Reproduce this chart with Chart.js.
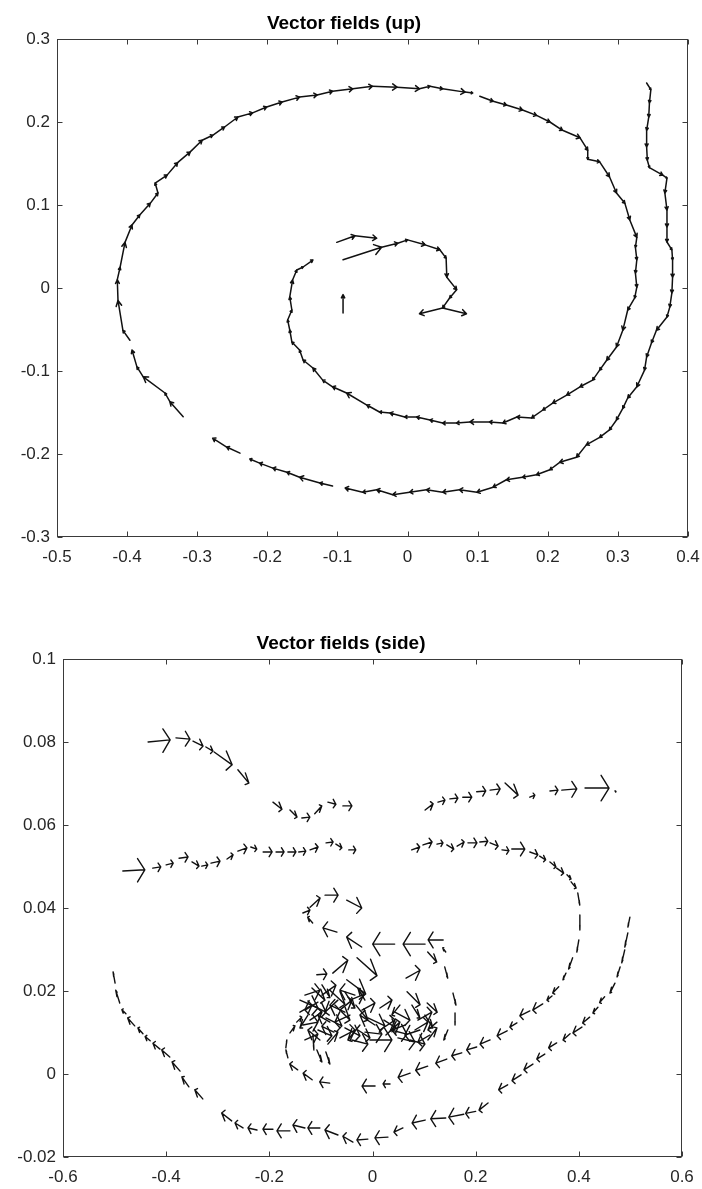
<!DOCTYPE html>
<html lang="en">
<head>
<meta charset="UTF-8">
<title>Vector fields</title>
<script src="https://cdn.jsdelivr.net/npm/chart.js"></script>
<style>
  html, body { margin: 0; padding: 0; background: #fff; }
  canvas { display: block; }
</style>
</head>
<body>
<canvas id="upChart" width="702" height="600"></canvas>
<canvas id="sideChart" width="702" height="589"></canvas>
<script>
// ---------- top view: sampled trajectory runs [x, y]; each sample points to the next ----------
const upRun1 = [[0.341,0.247],[0.347,0.239],[0.345,0.223],[0.344,0.206],[0.341,0.190],[0.341,0.170],[0.342,0.154],[0.345,0.145],[0.364,0.136],[0.370,0.1325],[0.367,0.1145],[0.370,0.094],[0.370,0.0735],[0.370,0.0554],[0.377,0.046],[0.378,0.034],[0.378,0.013],[0.377,-0.006],[0.374,-0.023],[0.370,-0.035],[0.355,-0.051],[0.348,-0.066],[0.341,-0.083],[0.338,-0.099],[0.327,-0.119],[0.314,-0.1325],[0.307,-0.145],[0.298,-0.159],[0.288,-0.171],[0.274,-0.180],[0.255,-0.189],[0.241,-0.204],[0.217,-0.210],[0.203,-0.219],[0.184,-0.225],[0.164,-0.228],[0.141,-0.231],[0.122,-0.240],[0.099,-0.246],[0.074,-0.243],[0.050,-0.246],[0.027,-0.243],[0.003,-0.246],[-0.021,-0.249],[-0.044,-0.243],[-0.064,-0.246],[-0.089,-0.241]];
const upRun2 = [[-0.107,-0.2386],[-0.125,-0.235],[-0.154,-0.228],[-0.172,-0.222],[-0.192,-0.217],[-0.211,-0.211],[-0.225,-0.206]];
const upRun3 = [[-0.239,-0.199],[-0.258,-0.1916],[-0.278,-0.181]];
const upRun4 = [[-0.320,-0.155],[-0.339,-0.137],[-0.346,-0.1265],[-0.377,-0.107],[-0.386,-0.095],[-0.393,-0.0747]];
const upRun5 = [[-0.396,-0.063],[-0.406,-0.051],[-0.413,-0.015],[-0.414,0.010],[-0.410,0.025],[-0.403,0.055],[-0.393,0.076],[-0.382,0.088],[-0.367,0.102],[-0.356,0.1145],[-0.360,0.1265],[-0.343,0.136],[-0.328,0.151],[-0.310,0.164],[-0.293,0.178],[-0.278,0.184],[-0.261,0.194],[-0.242,0.206],[-0.221,0.211],[-0.201,0.218],[-0.179,0.224],[-0.154,0.230],[-0.129,0.2325],[-0.107,0.237],[-0.078,0.240],[-0.050,0.243],[-0.015,0.242],[0.017,0.240],[0.032,0.243],[0.050,0.240],[0.082,0.236],[0.093,0.235]];
const upRun6 = [[0.103,0.231],[0.122,0.225],[0.141,0.2205],[0.164,0.2145],[0.184,0.208],[0.203,0.200],[0.221,0.190],[0.246,0.181],[0.257,0.166],[0.257,0.155],[0.274,0.152],[0.288,0.134],[0.298,0.1145],[0.310,0.102],[0.317,0.082],[0.327,0.061],[0.325,0.049],[0.327,0.034],[0.325,0.018],[0.327,0.001],[0.324,-0.012],[0.314,-0.0265],[0.307,-0.051],[0.298,-0.071],[0.284,-0.087],[0.274,-0.099],[0.264,-0.111],[0.246,-0.119],[0.227,-0.129],[0.207,-0.1386],[0.193,-0.147],[0.177,-0.1566],[0.156,-0.1554],[0.136,-0.1627],[0.117,-0.1614],[0.089,-0.1614],[0.070,-0.1627],[0.050,-0.1627],[0.032,-0.159],[0.013,-0.1554],[-0.004,-0.1554],[-0.025,-0.1506],[-0.040,-0.1494],[-0.058,-0.141],[-0.087,-0.1265],[-0.107,-0.119],[-0.121,-0.111],[-0.135,-0.0964],[-0.149,-0.0867],[-0.154,-0.0747],[-0.165,-0.065],[-0.168,-0.0506],[-0.171,-0.0386],[-0.165,-0.0265],[-0.168,-0.0108],[-0.164,0.0096],[-0.158,0.0217],[-0.149,0.0253],[-0.135,0.0337]];
const upCoreA = [[-0.101,0.055],[-0.075,0.063],[-0.044,0.060]];
const upCoreB = [[-0.092,0.034],[-0.037,0.049]];
const upCoreC = [[-0.037,0.049],[-0.014,0.054],[0.000,0.058],[0.025,0.052],[0.046,0.046],[0.055,0.036],[0.056,0.013],[0.070,-0.002],[0.060,-0.012],[0.050,-0.024]];
const upCoreD = [[0.050,-0.024],[0.017,-0.031]];
const upCoreE = [[0.050,-0.024],[0.084,-0.031]];
const upCoreF = [[-0.092,-0.030],[-0.092,-0.008]];

const upTicksX = [-0.5, -0.4, -0.3, -0.2, -0.1, 0, 0.1, 0.2, 0.3, 0.4];
const upTicksY = [-0.3, -0.2, -0.1, 0, 0.1, 0.2, 0.3];

// ---------- side view: quiver rows [x, y, u, v] ----------
const sideArcA = [
  [-0.435, 0.0800, 0.0427, 0.0005], [-0.381, 0.0810, 0.0271, -0.0003], [-0.348, 0.0802, 0.0194, -0.0012],
  [-0.323, 0.0788, 0.0136, -0.0010], [-0.307, 0.0776, 0.0349, -0.0031], [-0.261, 0.0733, 0.0213, -0.0032]
];
const sideArcB = [
  [-0.193, 0.0655, 0.0174, -0.0017], [-0.160, 0.0636, 0.0136, -0.0017], [-0.137, 0.0617, 0.0155, 0.0002],
  [-0.112, 0.0627, 0.0136, 0.0019], [-0.0865, 0.0655, 0.0155, -0.0005], [-0.0574, 0.0646, 0.0174, 0]
];
const sideRowC = [
  [-0.484, 0.0489, 0.0426, 0.0003], [-0.426, 0.0496, 0.0155, 0.0003], [-0.400, 0.0504, 0.0136, 0.0004],
  [-0.375, 0.0520, 0.0174, 0.0003], [-0.350, 0.0511, 0.0136, -0.0010], [-0.331, 0.0501, 0.0116, 0.0003],
  [-0.313, 0.0508, 0.0174, 0.0005], [-0.282, 0.0518, 0.0116, 0.0010], [-0.261, 0.0537, 0.0175, 0.0008],
  [-0.236, 0.0547, 0.0116, -0.0005], [-0.212, 0.0535, 0.0174, 0], [-0.187, 0.0535, 0.0155, 0],
  [-0.164, 0.0535, 0.0155, 0], [-0.143, 0.0535, 0.0136, 0.0002], [-0.121, 0.0540, 0.0155, 0.0007],
  [-0.090, 0.0557, 0.0136, 0.0002], [-0.071, 0.0554, 0.0116, -0.0009], [-0.046, 0.0540, 0.0135, 0]
];
const sideRowD = [
  [0.102, 0.0636, 0.0155, 0.0015], [0.127, 0.0655, 0.0135, 0.0005], [0.150, 0.0663, 0.0155, 0.0002],
  [0.175, 0.0667, 0.0174, 0], [0.202, 0.0680, 0.0175, 0.0002], [0.228, 0.0684, 0.0194, 0.0003],
  [0.257, 0.0701, 0.0252, -0.0029], [0.305, 0.0667, 0.0097, 0.0005], [0.344, 0.0682, 0.0155, 0.0002],
  [0.367, 0.0684, 0.0290, 0.0003], [0.412, 0.0689, 0.0465, 0], [0.470, 0.0682, 0.0020, -0.0002]
];
const sideRowE = [
  [0.076, 0.0540, 0.0155, 0.0007], [0.098, 0.0552, 0.0175, 0.0007], [0.125, 0.0554, 0.0116, 0.0003],
  [0.144, 0.0552, 0.0135, -0.0010], [0.164, 0.0549, 0.0136, 0.0010], [0.185, 0.0557, 0.0174, 0],
  [0.208, 0.0559, 0.0155, 0.0002], [0.228, 0.0557, 0.0155, -0.0008], [0.251, 0.0540, 0.0135, -0.0002],
  [0.270, 0.0542, 0.0252, 0], [0.305, 0.0535, 0.0155, -0.0007], [0.324, 0.0525, 0.0116, -0.0009],
  [0.344, 0.0511, 0.0116, -0.0012], [0.357, 0.0496, 0.0135, -0.0012], [0.377, 0.0480, 0.0078, -0.0010],
  [0.385, 0.0463, 0.0097, -0.0015], [0.398, 0.0436, 0.0038, -0.0029], [0.402, 0.0383, 0, -0.0036],
  [0.400, 0.0323, -0.0039, -0.0029], [0.388, 0.0280, -0.0078, -0.0027], [0.375, 0.0243, -0.0058, -0.0016],
  [0.361, 0.0210, -0.0116, -0.0015], [0.348, 0.0188, -0.0097, -0.0010], [0.330, 0.0169, -0.0193, -0.0015],
  [0.305, 0.0152, -0.0193, -0.0012], [0.280, 0.0123, -0.0136, -0.0010], [0.261, 0.0104, -0.0194, -0.0012],
  [0.228, 0.0082, -0.0194, -0.0010], [0.202, 0.0065, -0.0194, -0.0007], [0.173, 0.0051, -0.0194, -0.0007],
  [0.144, 0.0036, -0.0213, -0.0010], [0.107, 0.0019, -0.0233, -0.0010], [0.073, 0.0002, -0.0233, -0.0010],
  [0.034, -0.0024, -0.0135, 0], [0.005, -0.0029, -0.0252, 0], [-0.083, -0.0022, -0.0194, 0.0003],
  [-0.117, -0.0014, -0.0175, 0.0016], [-0.145, 0.0010, -0.0155, 0.0014], [-0.164, 0.0039, -0.0039, 0.0019],
  [-0.168, 0.0063, 0.0019, 0.0019], [-0.160, 0.0099, 0.0097, 0.0017], [-0.147, 0.0125, 0.0097, 0.0012]
];
const sideOuter = [
  [0.499, 0.0378, -0.0039, -0.0024], [0.495, 0.0340, -0.0059, -0.0034], [0.489, 0.0299, -0.0058, -0.0031],
  [0.480, 0.0258, -0.0059, -0.0024], [0.470, 0.0219, -0.0097, -0.0024], [0.450, 0.0186, -0.0097, -0.0014],
  [0.437, 0.0161, -0.0097, -0.0014], [0.421, 0.0137, -0.0136, -0.0014], [0.406, 0.0113, -0.0174, -0.0014],
  [0.383, 0.0097, -0.0136, -0.0015], [0.357, 0.0075, -0.0155, -0.0012], [0.334, 0.0048, -0.0155, -0.0012],
  [0.311, 0.0024, -0.0174, -0.0014], [0.288, -0.0002, -0.0174, -0.0014], [0.262, -0.0026, -0.0174, -0.0012],
  [0.224, -0.0070, -0.0174, -0.0017], [0.200, -0.0090, -0.0194, -0.0005], [0.177, -0.0097, -0.0291, -0.0007],
  [0.142, -0.0106, -0.0291, -0.0002], [0.102, -0.0111, -0.0252, -0.0007], [0.059, -0.0130, -0.0174, -0.0010],
  [0.030, -0.0152, -0.0252, -0.0002], [-0.009, -0.0157, -0.0213, -0.0002], [-0.038, -0.0164, -0.0194, 0.0014],
  [-0.067, -0.0147, -0.0252, 0.0012], [-0.102, -0.0130, -0.0233, 0], [-0.131, -0.0130, -0.0233, 0.0007],
  [-0.160, -0.0137, -0.0252, 0], [-0.193, -0.0133, -0.0194, 0], [-0.224, -0.0135, -0.0174, 0.0005],
  [-0.251, -0.0130, -0.0155, 0.0012], [-0.273, -0.0113, -0.0194, 0.0019], [-0.329, -0.0060, -0.0155, 0.0022],
  [-0.356, -0.0031, -0.0136, 0.0024], [-0.373, 0.0007, -0.0155, 0.0022], [-0.393, 0.0041, -0.0155, 0.0017],
  [-0.412, 0.0060, -0.0136, 0.0014], [-0.431, 0.0080, -0.0097, 0.0010], [-0.445, 0.0097, -0.0097, 0.0014],
  [-0.461, 0.0116, -0.0136, 0.0019], [-0.478, 0.0145, -0.0078, 0.0010], [-0.490, 0.0171, -0.0078, 0.0031],
  [-0.499, 0.0219, -0.0039, 0.0027]
];
const sideUpper = [
  [-0.135, 0.0388, 0.0136, 0.0007], [-0.121, 0.0402, 0.0194, 0.0022], [-0.092, 0.0431, 0.0252, 0],
  [-0.050, 0.0419, 0.0291, -0.0019], [-0.116, 0.0364, -0.0097, 0.0014], [-0.069, 0.0342, -0.0271, 0.0010],
  [-0.021, 0.0306, -0.0291, 0.0024], [0.043, 0.0313, -0.0426, 0], [0.102, 0.0313, -0.0426, 0],
  [0.137, 0.0323, -0.0291, 0], [0.142, 0.0294, -0.0058, 0.0010], [0.107, 0.0294, 0.0175, -0.0024],
  [-0.108, 0.0239, 0.0194, 0.0002], [-0.077, 0.0243, 0.0291, 0.0031], [-0.030, 0.0280, 0.0387, -0.0043],
  [-0.050, 0.0227, 0.0368, -0.0034], [0.065, 0.0231, 0.0272, 0.0019], [0.067, 0.0198, 0.0252, -0.0031],
  [0.106, 0.0171, 0.0194, -0.0022],
  [0.140, 0.0258, 0.0058, -0.0027], [0.156, 0.0195, 0.0058, -0.0029], [0.160, 0.0147, 0, -0.0029],
  [0.146, 0.0106, -0.0078, -0.0024]
];
const sideCore = [
  [-0.131, 0.0190, 0.0291, 0.0012], [-0.1174, 0.0207, 0.0252, -0.0029], [-0.1058, 0.0173, -0.0252, -0.0019],
  [-0.098, 0.0215, 0.0155, -0.0031], [-0.1407, 0.0149, 0.0233, 0.0017], [-0.0826, 0.0202, 0.0291, -0.0034],
  [-0.0671, 0.0178, -0.0252, -0.0029], [-0.0535, 0.0198, 0.0194, -0.0039], [-0.1213, 0.0130, 0.0233, 0.0019],
  [-0.0904, 0.0135, 0.0310, -0.0019], [-0.0632, 0.0154, 0.0233, 0.0024], [-0.0438, 0.0142, -0.0291, -0.0017],
  [-0.0322, 0.0166, 0.0233, -0.0036], [-0.1058, 0.0106, 0.0271, -0.0014], [-0.0749, 0.0101, -0.0233, 0.0014],
  [-0.0535, 0.0111, 0.0291, -0.0019], [-0.0244, 0.0118, -0.0233, -0.0036], [-0.131, 0.0082, 0.0252, 0.0014],
  [-0.0865, 0.0072, 0.0194, 0.0029], [-0.040, 0.0082, 0.0310, -0.0010], [-0.0147, 0.0101, 0.0329, -0.0005],
  [-0.005, 0.0082, 0.0426, 0], [0.0047, 0.0118, -0.0291, 0.0024], [-0.0205, 0.0154, 0.0252, 0.0017],
  [-0.1078, 0.0058, 0.0097, -0.0029], [-0.0904, 0.0053, 0.0078, -0.0029], [-0.1155, 0.0094, 0.0019, -0.0036],
  [0.0434, 0.0149, 0.0291, -0.0019], [0.0628, 0.0118, -0.0252, -0.0012], [0.0764, 0.0166, 0.0155, -0.0031],
  [0.0919, 0.0106, -0.0291, -0.0012], [0.1016, 0.0142, 0.0155, -0.0031], [0.0492, 0.0087, 0.0329, -0.0010],
  [0.1113, 0.0094, -0.0233, -0.0017], [0.088, 0.0130, 0.0271, 0.0019], [0.0221, 0.0130, 0.0233, -0.0019],
  [0.026, 0.0094, 0.0271, 0.0031], [0.0725, 0.0082, 0.0291, -0.0010], [0.1249, 0.0125, -0.0174, -0.0019],
  [0.0144, 0.0159, 0.0233, 0.0019],
  [-0.1407, 0.0178, 0.0349, -0.0019], [-0.1252, 0.0142, -0.0155, -0.0031], [-0.098, 0.0190, 0.0271, 0.0024],
  [-0.0729, 0.0166, 0.0291, -0.0036], [-0.0535, 0.0149, -0.0291, 0.0017], [-0.0341, 0.0190, -0.0291, 0.0012],
  [-0.0147, 0.0178, -0.0136, 0.0029], [-0.102, 0.0082, -0.0233, 0.0024], [-0.0632, 0.0087, 0.0291, 0.0019],
  [-0.0283, 0.0106, 0.0233, -0.0019], [-0.0826, 0.0125, -0.0233, 0.0017], [-0.1174, 0.0166, 0.0271, -0.0017],
  [0.0531, 0.0166, -0.0155, -0.0024], [0.0822, 0.0106, 0.0252, 0.0019], [0.1074, 0.0082, 0.0174, 0.0029],
  [0.0356, 0.0106, 0.0310, -0.0010], [0.0144, 0.0106, 0.0291, 0.0024], [-0.0089, 0.0135, 0.0329, -0.0019],
  [-0.0438, 0.0178, 0.0271, 0.0014], [-0.1349, 0.0118, 0.0291, 0.0007]
];

const sideTicksX = [-0.6, -0.4, -0.2, 0, 0.2, 0.4, 0.6];
const sideTicksY = [-0.02, 0, 0.02, 0.04, 0.06, 0.08, 0.1];

// ---------- helpers ----------
Chart.defaults.font.family = "'Liberation Sans', Arial, Helvetica, sans-serif";
Chart.defaults.color = '#262626';

const fmtTick = v => String(Math.round(v * 1000) / 1000);

function rowsToArrows(rows) {
  return rows.map(([x, y, u, v]) => ({x, y, u, v}));
}
function runToArrows(run) {
  const out = [];
  for (let i = 0; i < run.length - 1; i++) {
    out.push({x: run[i][0], y: run[i][1], u: run[i + 1][0] - run[i][0], v: run[i + 1][1] - run[i][1]});
  }
  return out;
}
function quiverSet(arrows) {
  return {data: arrows, pointRadius: 0, pointHoverRadius: 0, showLine: false};
}

// arrows with heads built in data units, like matlab quiver
const quiverPlugin = {
  id: 'quiver',
  afterDatasetsDraw(chart, args, opts) {
    const {ctx, chartArea: a, scales: {x: sx, y: sy}} = chart;
    const px = v => sx.getPixelForValue(v);
    const py = v => sy.getPixelForValue(v);
    const al = opts.alpha, be = opts.beta;
    ctx.save();
    ctx.beginPath();
    ctx.rect(a.left, a.top, a.width, a.height);
    ctx.clip();
    ctx.strokeStyle = opts.color;
    ctx.lineWidth = opts.lineWidth;
    ctx.lineJoin = 'round';
    ctx.lineCap = 'round';
    chart.data.datasets.forEach(ds => {
      ds.data.forEach(({x, y, u, v}) => {
        const x1 = x + u, y1 = y + v;
        const h1x = x1 - al * (u + be * v), h1y = y1 - al * (v - be * u);
        const h2x = x1 - al * (u - be * v), h2y = y1 - al * (v + be * u);
        ctx.beginPath();
        ctx.moveTo(px(x), py(y));
        ctx.lineTo(px(x1), py(y1));
        ctx.moveTo(px(h1x), py(h1y));
        ctx.lineTo(px(x1), py(y1));
        ctx.lineTo(px(h2x), py(h2y));
        ctx.stroke();
      });
    });
    ctx.restore();
  }
};

// box round the axes with inward ticks on all four sides
const boxPlugin = {
  id: 'box',
  afterDatasetsDraw(chart) {
    const {ctx, chartArea: a, scales: {x: sx, y: sy}} = chart;
    const L = Math.round(a.left) + 0.5, R = Math.round(a.right) - 0.5;
    const T = Math.round(a.top) + 0.5, B = Math.round(a.bottom) - 0.5;
    const tl = 5;
    ctx.save();
    ctx.strokeStyle = '#3a3a3a';
    ctx.lineWidth = 1;
    ctx.strokeRect(L, T, R - L, B - T);
    ctx.beginPath();
    sx.ticks.forEach(t => {
      const p = Math.round(sx.getPixelForValue(t.value)) + 0.5;
      ctx.moveTo(p, B); ctx.lineTo(p, B - tl);
      ctx.moveTo(p, T); ctx.lineTo(p, T + tl);
    });
    sy.ticks.forEach(t => {
      const p = Math.round(sy.getPixelForValue(t.value)) + 0.5;
      ctx.moveTo(L, p); ctx.lineTo(L + tl, p);
      ctx.moveTo(R, p); ctx.lineTo(R - tl, p);
    });
    ctx.stroke();
    ctx.restore();
  }
};

function makeOptions(c) {
  return {
    responsive: false,
    animation: false,
    devicePixelRatio: 1,
    events: [],
    layout: {padding: {left: 0, right: c.padRight, top: 0, bottom: 0}},
    scales: {
      x: {
        type: 'linear', position: 'bottom', min: c.xMin, max: c.xMax,
        afterBuildTicks: s => { s.ticks = c.xTicks.map(value => ({value})); },
        afterFit: s => { s.height = c.xAxisHeight; s.paddingLeft = 0; s.paddingRight = 0; },
        grid: {display: false, drawTicks: false},
        border: {display: false},
        ticks: {callback: fmtTick, padding: 10, maxRotation: 0, autoSkip: false, font: {size: 17}, color: '#262626'}
      },
      y: {
        type: 'linear', position: 'left', min: c.yMin, max: c.yMax,
        afterBuildTicks: s => { s.ticks = c.yTicks.map(value => ({value})); },
        afterFit: s => { s.width = c.yAxisWidth; s.paddingTop = 0; s.paddingBottom = 0; },
        grid: {display: false, drawTicks: false},
        border: {display: false},
        ticks: {callback: fmtTick, padding: 7, autoSkip: false, font: {size: 17}, color: '#262626'}
      }
    },
    plugins: {
      legend: {display: false},
      tooltip: {enabled: false},
      title: {
        display: true, text: c.title, color: '#000',
        font: {size: 19, weight: 'bold'},
        padding: {top: c.titleTop, bottom: c.titleBottom}
      },
      quiver: {alpha: c.alpha, beta: c.beta, color: '#111', lineWidth: c.lineWidth}
    }
  };
}

// ---------- top: vector fields seen from above ----------
new Chart(document.getElementById('upChart'), {
  type: 'scatter',
  data: {
    datasets: [upRun1, upRun2, upRun3, upRun4, upRun5, upRun6,
               upCoreA, upCoreB, upCoreC, upCoreD, upCoreE, upCoreF]
      .map(r => quiverSet(runToArrows(r)))
  },
  options: makeOptions({
    title: 'Vector fields (up)', titleTop: 12, titleBottom: 4.2,
    xMin: -0.5, xMax: 0.4, yMin: -0.3, yMax: 0.3,
    xTicks: upTicksX, yTicks: upTicksY,
    yAxisWidth: 57, xAxisHeight: 63, padRight: 14,
    alpha: 0.18, beta: 0.6, lineWidth: 1.5
  }),
  plugins: [quiverPlugin, boxPlugin]
});

// ---------- bottom: vector fields seen from the side ----------
new Chart(document.getElementById('sideChart'), {
  type: 'scatter',
  data: {
    datasets: [sideArcA, sideArcB, sideRowC, sideRowD, sideRowE, sideOuter, sideUpper, sideCore]
      .map(r => quiverSet(rowsToArrows(r)))
  },
  options: makeOptions({
    title: 'Vector fields (side)', titleTop: 32, titleBottom: 4.2,
    xMin: -0.6, xMax: 0.6, yMin: -0.02, yMax: 0.1,
    xTicks: sideTicksX, yTicks: sideTicksY,
    yAxisWidth: 63, xAxisHeight: 32, padRight: 20,
    alpha: 0.33, beta: 0.2, lineWidth: 1.4
  }),
  plugins: [quiverPlugin, boxPlugin]
});
</script>
</body>
</html>
